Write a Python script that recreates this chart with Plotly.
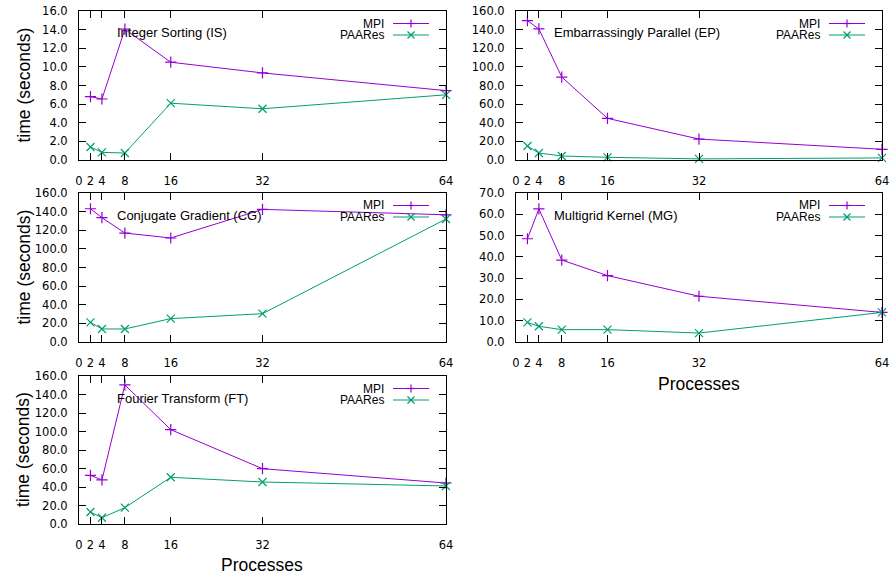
import plotly.graph_objects as go

# ---------------- data ----------------
processes = [2, 4, 8, 16, 32, 64]
x_tick_vals = [0, 2, 4, 8, 16, 32, 64]
x_tick_text = ["0", "2", "4", "8", "16", "32", "64"]

is_mpi = [6.8, 6.55, 14.05, 10.5, 9.35, 7.45]
is_paares = [1.4, 0.82, 0.75, 6.1, 5.5, 7.0]
ep_mpi = [149.6, 140.7, 89.1, 44.7, 22.5, 11.5]
ep_paares = [15.0, 7.5, 4.3, 2.9, 1.2, 2.2]
cg_mpi = [143.1, 133.5, 117.0, 111.7, 142.4, 136.6]
cg_paares = [21.1, 14.0, 14.0, 25.1, 30.4, 132.1]
mg_mpi = [48.5, 62.5, 38.5, 31.2, 21.5, 13.9]
mg_paares = [9.2, 7.4, 5.8, 5.8, 4.2, 13.9]
ft_mpi = [52.6, 47.6, 150.3, 102.0, 59.8, 44.3]
ft_paares = [13.0, 6.8, 17.7, 50.5, 45.4, 41.1]

titles = ["Integer Sorting (IS)", "Embarrassingly Parallel (EP)",
          "Conjugate Gradient (CG)", "Multigrid Kernel (MG)",
          "Fourier Transform (FT)"]
mpi_series = [is_mpi, ep_mpi, cg_mpi, mg_mpi, ft_mpi]
paares_series = [is_paares, ep_paares, cg_paares, mg_paares, ft_paares]
y_max = [16, 160, 160, 70, 160]
y_step = [2, 20, 20, 10, 20]
series_names = ["MPI", "PAARes"]

# ---------------- layout (pixels) ----------------
W, H = 893, 578
# left, right, top, bottom in px
panels = [(79, 446, 11, 160), (516, 882, 11, 160),
          (79, 446, 193, 342), (516, 882, 193, 342),
          (79, 446, 376, 524)]
MPI_COLOR = "#9400D3"
PAA_COLOR = "#009E73"
colors = [MPI_COLOR, PAA_COLOR]
symbols = ["cross-thin", "x-thin"]
marker_sizes = [8, 8]

TICK_FONT = dict(family="DejaVu Sans", size=11.5, color="black")
TEXT_FONT = "Liberation Sans"


def px(x):
    return x / W


def py(y):
    return 1 - y / H


fig = go.Figure()
shapes = []
annotations = []

for i, (l, r, t, b) in enumerate(panels):
    k = "" if i == 0 else str(i + 1)
    for s, data in enumerate([mpi_series[i], paares_series[i]]):
        fig.add_trace(go.Scatter(
            x=processes, y=data, mode="lines+markers", name=series_names[s],
            xaxis="x" + k, yaxis="y" + k, showlegend=False, cliponaxis=False,
            line=dict(color=colors[s], width=1),
            marker=dict(symbol=symbols[s], size=marker_sizes[s],
                        line=dict(color=colors[s], width=1.2), color=colors[s]),
        ))
    common = dict(showline=True, linecolor="black", linewidth=1,
                  mirror="allticks", ticks="inside", ticklen=7,
                  tickcolor="black", tickwidth=1, showgrid=False,
                  zeroline=False, tickfont=TICK_FONT, automargin=False)
    fig.update_layout(**{
        "xaxis" + k: dict(domain=[px(l), px(r)], anchor="y" + k,
                          range=[0, 64], tickmode="array",
                          tickvals=x_tick_vals, ticktext=x_tick_text,
                          ticklabelstandoff=10, **common),
        "yaxis" + k: dict(domain=[py(b), py(t)], anchor="x" + k,
                          range=[0, y_max[i]], dtick=y_step[i], tick0=0,
                          tickformat=".1f", ticklabelstandoff=8, **common),
    })
    # in-plot title
    annotations.append(dict(text=titles[i], x=px(l + 36), y=py(t + 22),
                            xref="paper", yref="paper", xanchor="left",
                            yanchor="middle", showarrow=False,
                            font=dict(family=TEXT_FONT, size=13, color="black")))
    # gnuplot style key
    for s in range(2):
        yk = t + 12.5 + s * 11.5
        annotations.append(dict(text=series_names[s], x=px(r - 60), y=py(yk),
                                xref="paper", yref="paper", xanchor="right",
                                yanchor="middle", showarrow=False,
                                font=dict(family=TEXT_FONT, size=12, color="black")))
        shapes.append(dict(type="line", xref="paper", yref="paper",
                           x0=px(r - 53), x1=px(r - 17), y0=py(yk), y1=py(yk),
                           line=dict(color=colors[s], width=1)))
        cx = r - 35
        if s == 0:
            segs = [(cx - 4, yk, cx + 4, yk), (cx, yk - 4, cx, yk + 4)]
        else:
            segs = [(cx - 3.5, yk - 3.5, cx + 3.5, yk + 3.5),
                    (cx - 3.5, yk + 3.5, cx + 3.5, yk - 3.5)]
        for (x0, y0, x1, y1) in segs:
            shapes.append(dict(type="line", xref="paper", yref="paper",
                               x0=px(x0), x1=px(x1), y0=py(y0), y1=py(y1),
                               line=dict(color=colors[s], width=1.2)))
    # y axis title on left column
    if l < 100:
        annotations.append(dict(text="time (seconds)", x=px(23), y=py((t + b) / 2),
                                xref="paper", yref="paper", xanchor="center",
                                yanchor="middle", showarrow=False, textangle=-90,
                                font=dict(family=TEXT_FONT, size=17.5, color="black")))

# x axis titles
for (cx, cy) in [(262, 565), (699, 384)]:
    annotations.append(dict(text="Processes", x=px(cx), y=py(cy), xref="paper",
                            yref="paper", xanchor="center", yanchor="middle",
                            showarrow=False,
                            font=dict(family=TEXT_FONT, size=17.5, color="black")))

fig.update_layout(width=W, height=H, margin=dict(l=0, r=0, t=0, b=0),
                  paper_bgcolor="white", plot_bgcolor="white",
                  shapes=shapes, annotations=annotations, showlegend=False,
                  hovermode=False)

fig.write_html("out.html", config={"displayModeBar": False},
               post_script="document.body.style.margin='0';"
                           "document.body.style.overflow='hidden';")
